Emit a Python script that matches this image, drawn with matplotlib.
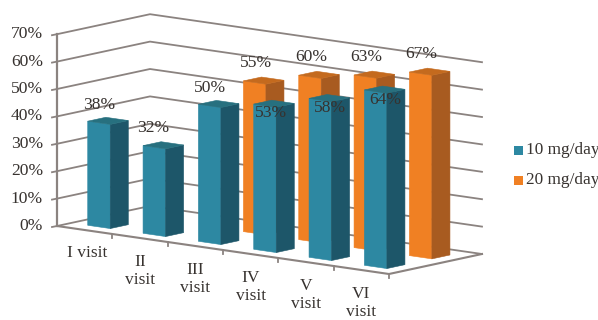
import matplotlib
matplotlib.use('Agg')
import matplotlib.pyplot as plt
from matplotlib.patches import Polygon, Rectangle

categories = ["I visit", "II\nvisit", "III\nvisit", "IV\nvisit", "V\nvisit", "VI\nvisit"]
y_ticks = [0, 10, 20, 30, 40, 50, 60, 70]
dose_10 = [38, 32, 50, 53, 58, 64]
dose_20_cats = [2, 3, 4, 5]
dose_20 = [55, 60, 63, 67]

W, H = 598, 320
TEAL = ("#2d88a2", "#1d5669", "#27707f")
ORANGE = ("#f08023", "#a85b20", "#c46a1e")
GRID = "#8b8380"
TEXT = "#37322f"

plt.rcParams['font.family'] = ['Liberation Serif', 'DejaVu Serif']


# oblique projection of (category, depth, percent) onto the canvas
def proj(c, d, v):
    return (57 + 55.33 * c + 93 * d, 226 + 8 * c - 20 * d - 2.74 * v)


def draw_bar(ax, c, d, v, colors, z):
    bw, bd = 0.407, 0.194
    c0, c1 = c + 0.5 - bw / 2, c + 0.5 + bw / 2
    d0, d1 = d, d + bd
    front, side, top = colors
    faces = [
        (front, [(c0, d0, 0), (c1, d0, 0), (c1, d0, v), (c0, d0, v)]),
        (side, [(c1, d0, 0), (c1, d1, 0), (c1, d1, v), (c1, d0, v)]),
        (top, [(c0, d0, v), (c1, d0, v), (c1, d1, v), (c0, d1, v)]),
    ]
    for col, pts in faces:
        ax.add_patch(Polygon([proj(*p) for p in pts], closed=True, fc=col, ec=col, lw=0.4, zorder=z))


fig = plt.figure(figsize=(W / 100, H / 100), dpi=100)
ax = fig.add_axes([0, 0, 1, 1])
ax.set_xlim(0, W)
ax.set_ylim(H, 0)
ax.axis('off')

# back walls and floor
for t in y_ticks:
    pts = [proj(0, 0, t), proj(0, 1, t), proj(6, 1, t)]
    ax.plot(*zip(*pts), color=GRID, lw=1.3, zorder=1, solid_joinstyle='miter')
    x, y = proj(0, 0, t)
    ax.plot([x - 5, x], [y + 1, y], color=GRID, lw=1.3, zorder=1)
    ax.text(43, y, "%d%%" % t, ha='right', va='center', fontsize=12.6, color=TEXT)
ax.plot(*zip(proj(0, 0, 0), proj(0, 0, 70)), color=GRID, lw=1.6, zorder=1)
ax.plot(*zip(proj(0, 0, 0), proj(6, 0, 0), proj(6, 1, 0)), color=GRID, lw=1.5, zorder=1)
for i in range(1, 7):
    x, y = proj(i, 0, 0)
    ax.plot([x, x], [y, y + 4], color=GRID, lw=1.3, zorder=1)

# rear row first so the front row overlaps it
for c, v in zip(dose_20_cats, dose_20):
    draw_bar(ax, c, 0.638, v, ORANGE, 2 + c * 0.01)
for c, v in enumerate(dose_10):
    draw_bar(ax, c, 0.154, v, TEAL, 3 + c * 0.01)

# value labels
dx_10 = [-9, -10, -9, -3, 1, 1]
dy_10 = [-16, -17, -16, 9, 10, 10]
for c, v, dx, dy in zip(range(6), dose_10, dx_10, dy_10):
    x, y = proj(c + 0.5, 0.25, v)
    ax.text(x + dx, y + dy, "%d%%" % v, ha='center', va='center', fontsize=12.6, color=TEXT, zorder=5)
dx_20 = [-8, -8, -8, -8]
dy_20 = [-18, -18, -18, -18]
for c, v, dx, dy in zip(dose_20_cats, dose_20, dx_20, dy_20):
    x, y = proj(c + 0.5, 0.735, v)
    ax.text(x + dx, y + dy, "%d%%" % v, ha='center', va='center', fontsize=12.6, color=TEXT, zorder=5)

# category labels
for i, lab in enumerate(categories):
    x, y = proj(i + 0.5, 0, 0)
    if i == 0:
        ax.text(87, 253, lab, ha='center', va='center', fontsize=12.5, color=TEXT)
    else:
        ax.text(x, y + 33, lab, ha='center', va='center', fontsize=12.5, color=TEXT, linespacing=1.2)

# legend
for yy, col, lab in [(150, TEAL[0], "10 mg/day"), (180, ORANGE[0], "20 mg/day")]:
    ax.add_patch(Rectangle((514, yy - 4.5), 9, 9, fc=col, ec='none'))
    ax.text(526, yy, lab, ha='left', va='center', fontsize=12.4, color=TEXT)

fig.savefig('out.png', dpi=100)
